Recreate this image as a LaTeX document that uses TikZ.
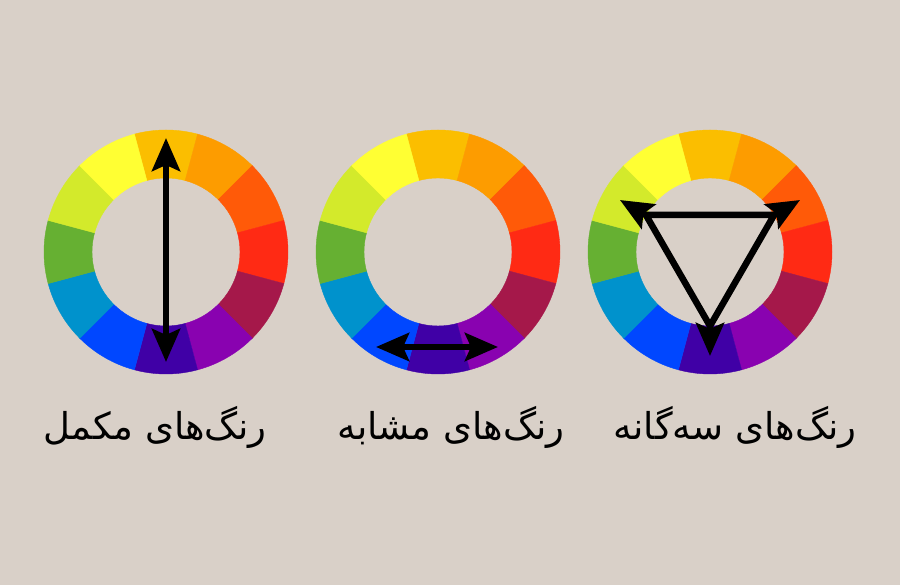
\documentclass[tikz,border=0pt]{standalone}
\usepackage{fontspec}
\usetikzlibrary{arrows.meta,calc}
\newfontfamily\persianfont[Script=Arabic]{DejaVu Sans}
\TeXXeTstate=1
\definecolor{bgbeige}{RGB}{217,208,200}
\definecolor{cAmber}{RGB}{251,190,0}
\definecolor{cOrange}{RGB}{253,156,0}
\definecolor{cOrRed}{RGB}{255,90,8}
\definecolor{cRed}{RGB}{255,42,20}
\definecolor{cCrimson}{RGB}{165,24,74}
\definecolor{cPurple}{RGB}{137,2,176}
\definecolor{cIndigo}{RGB}{64,0,166}
\definecolor{cBlue}{RGB}{0,71,255}
\definecolor{cCyan}{RGB}{0,146,204}
\definecolor{cGreen}{RGB}{102,176,50}
\definecolor{cLime}{RGB}{211,234,43}
\definecolor{cYellow}{RGB}{255,255,51}
\begin{document}
\begin{tikzpicture}[x=1pt,y=1pt,
		arr/.style={line width=6.5pt,-{Stealth[length=33pt,width=28pt,inset=6pt]}},
		dblarr/.style={line width=6.5pt,{Stealth[length=33pt,width=28pt,inset=6pt]}-{Stealth[length=33pt,width=28pt,inset=6pt]}},
		tri/.style={line width=6.5pt,line join=round},
		label/.style={font=\persianfont\fontsize{37}{42}\selectfont,anchor=base,inner sep=0pt},]

\fill[bgbeige] (0,0) rectangle (900,585);
\coordinate (w1) at (166,333);
\coordinate (w2) at (438,333);
\coordinate (w3) at (710,333);

\foreach \w in {w1,w2,w3}
	\foreach \ang/\col in {90/cAmber,60/cOrange,30/cOrRed,0/cRed,-30/cCrimson,-60/cPurple,
			-90/cIndigo,-120/cBlue,-150/cCyan,180/cGreen,150/cLime,120/cYellow}
		\filldraw[fill=\col,draw=\col,line width=0.4pt]
			($(\w)+(\ang-15:122)$) arc[start angle=\ang-15,end angle=\ang+15,radius=122]
			-- ($(\w)+(\ang+15:74)$) arc[start angle=\ang+15,end angle=\ang-15,radius=74] -- cycle;

\coordinate (c1top) at ($(w1)+(0,114)$);
\coordinate (c1bot) at ($(w1)+(0,-110)$);
\draw[dblarr] (c1bot) -- (c1top);

\coordinate (c2left) at ($(w2)+(-62,-95)$);
\coordinate (c2right) at ($(w2)+(60,-95)$);
\draw[dblarr] (c2left) -- (c2right);

\foreach \ang [count=\i] in {150,30,270}{
	\coordinate (t\i) at ($(w3)+(\ang:74)$);
	\coordinate (h\i) at ($(w3)+(\ang:104)$);
}
\draw[tri] (t1) -- (t2) -- (t3) -- cycle;
\foreach \i in {1,2,3}
	\draw[arr] (t\i) -- (h\i);

\node[label] (lab1) at (155,145) {\beginR رنگ‌های مکمل\endR};
\node[label] (lab2) at (451,145) {\beginR رنگ‌های مشابه\endR};
\node[label] (lab3) at (735,145) {\beginR رنگ‌های سه‌گانه\endR};
\end{tikzpicture}
\end{document}
